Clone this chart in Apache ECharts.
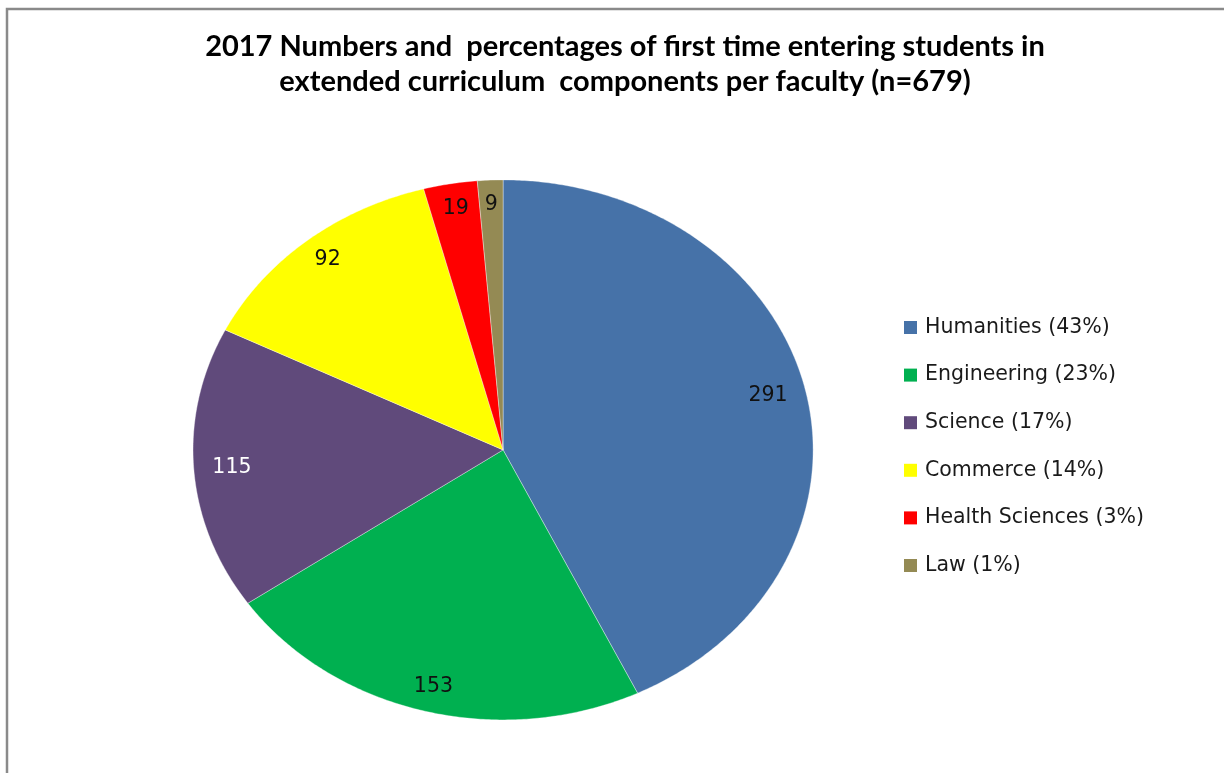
<!DOCTYPE html>
<html>
<head>
<meta charset="utf-8">
<script src="https://cdn.jsdelivr.net/npm/echarts@6/dist/echarts.min.js"></script>
<style>
  html, body { margin: 0; padding: 0; background: #fff; }
  #chart { width: 1224px; height: 773px; }
</style>
</head>
<body>
<div id="chart"></div>
<script>
// Faculties, student counts and their legend percentages
const categories = ['Humanities', 'Engineering', 'Science', 'Commerce', 'Health Sciences', 'Law'];
const counts = [291, 153, 115, 92, 19, 9];
const shares = [43, 23, 17, 14, 3, 1];
const titleLines = [
  '2017 Numbers and  percentages of first time entering students in',
  'extended curriculum  components per faculty (n=679)'
];

const colors = ['#4672A8', '#00B050', '#604A7B', '#FFFF00', '#FF0000', '#948A54'];
const labelColors = ['#111', '#111', '#fff', '#111', '#111', '#111'];

const total = counts.reduce((a, b) => a + b, 0);

// Elliptical pie: slices run clockwise from 12 o'clock
function sliceRenderer(idx) {
  return function (params, api) {
    const W = api.getWidth(), H = api.getHeight();
    const cx = W * 0.411, cy = H * 0.582;
    const rx = W * 0.2533, ry = H * 0.3493;
    const value = api.value(0);
    let before = 0;
    for (let k = 0; k < idx; k++) before += counts[k];
    const a0 = before / total * Math.PI * 2;
    const a1 = (before + value) / total * Math.PI * 2;
    const pts = [[cx, cy]];
    const steps = Math.max(4, Math.ceil((a1 - a0) / (Math.PI / 360)));
    for (let s = 0; s <= steps; s++) {
      const a = a0 + (a1 - a0) * s / steps;
      pts.push([cx + rx * Math.sin(a), cy - ry * Math.cos(a)]);
    }
    // label sits just inside the outer edge, pulled in by part of its width
    const am = (a0 + a1) / 2;
    const sx = Math.sin(am), sy = -Math.cos(am);
    const text = String(value);
    const halfW = text.length * 5.5;
    const lx = cx + rx * sx * 0.93 - sx * halfW;
    const ly = cy + ry * sy * 0.93 - sy * 6;
    return {
      type: 'group',
      children: [
        {
          type: 'polygon',
          shape: { points: pts },
          style: { fill: colors[idx], stroke: 'rgba(255,255,255,0.6)', lineWidth: 0.6 }
        },
        {
          type: 'text',
          x: lx,
          y: ly,
          style: {
            text: text,
            fill: labelColors[idx],
            font: '20.5px "DejaVu Sans"',
            align: 'center',
            verticalAlign: 'middle'
          }
        }
      ]
    };
  };
}

const chart = echarts.init(document.getElementById('chart'), null, { renderer: 'canvas' });

chart.setOption({
  animation: false,
  backgroundColor: '#fff',
  title: {
    text: titleLines.join('\n'),
    left: 620,
    top: 24,
    textAlign: 'center',
    textStyle: {
      fontFamily: 'Lato',
      fontWeight: 'bold',
      fontSize: 29,
      lineHeight: 35,
      color: '#000'
    }
  },
  legend: {
    orient: 'vertical',
    left: 899,
    top: 312,
    icon: 'rect',
    itemWidth: 13,
    itemHeight: 13,
    itemGap: 26.6,
    selectedMode: false,
    data: categories,
    formatter: name => name + ' (' + shares[categories.indexOf(name)] + '%)',
    textStyle: {
      fontFamily: 'DejaVu Sans',
      fontSize: 20.5,
      lineHeight: 20,
      color: '#1a1a1a',
      padding: [0, 0, 0, 3]
    }
  },
  graphic: [
    {
      type: 'polyline',
      shape: { points: [[7, 773], [7, 9], [1224, 9]] },
      style: { stroke: '#8a8a8a', lineWidth: 2.5, fill: null },
      z: 10
    }
  ],
  series: categories.map((name, i) => ({
    type: 'custom',
    name: name,
    coordinateSystem: 'none',
    itemStyle: { color: colors[i] },
    data: [counts[i]],
    renderItem: sliceRenderer(i)
  }))
});
</script>
</body>
</html>
